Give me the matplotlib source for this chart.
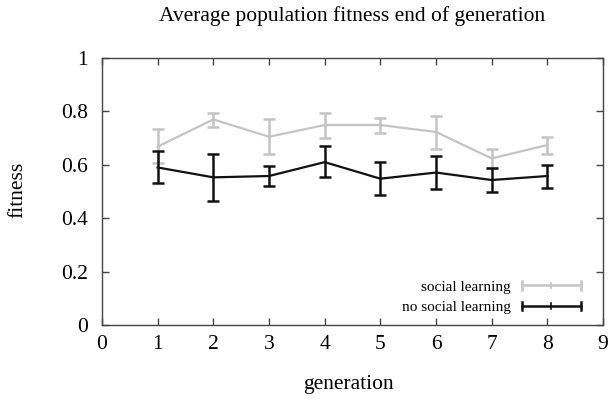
import matplotlib
matplotlib.use("Agg")
import matplotlib.pyplot as plt
from matplotlib.legend_handler import HandlerBase
from matplotlib.lines import Line2D
import numpy as np

generation = [1, 2, 3, 4, 5, 6, 7, 8]
social_mean = [0.668, 0.770, 0.705, 0.749, 0.749, 0.723, 0.624, 0.674]
social_low = [0.608, 0.740, 0.640, 0.699, 0.720, 0.660, 0.587, 0.640]
social_high = [0.734, 0.795, 0.770, 0.793, 0.777, 0.783, 0.660, 0.705]
nosocial_mean = [0.590, 0.553, 0.558, 0.610, 0.548, 0.571, 0.543, 0.558]
nosocial_low = [0.533, 0.464, 0.522, 0.554, 0.486, 0.509, 0.497, 0.514]
nosocial_high = [0.650, 0.642, 0.594, 0.669, 0.609, 0.632, 0.587, 0.598]
xticks = [0, 1, 2, 3, 4, 5, 6, 7, 8, 9]
yticks = [0, 0.2, 0.4, 0.6, 0.8, 1]
ytick_labels = ["0", "0.2", "0.4", "0.6", "0.8", "1"]

plt.rcParams['font.family'] = ['Liberation Serif', 'DejaVu Serif']

fig = plt.figure(figsize=(6.11, 4.01), dpi=100)
ax = fig.add_axes([102/611, 1-325/401, (603-102)/611, (325-58)/401])

GRAY = '#c4c4c4'
BLACK = '#111111'

def draw(mean, lo, hi, color, label):
    m = np.array(mean)
    yerr = [m - np.array(lo), np.array(hi) - m]
    ax.errorbar(generation, m, yerr=yerr, color=color, lw=1.6, elinewidth=1.8,
                capsize=4, capthick=1.8, label=label)

draw(social_mean, social_low, social_high, GRAY, 'social learning')
draw(nosocial_mean, nosocial_low, nosocial_high, BLACK, 'no social learning')

ax.set_xlim(0, 9)
ax.set_ylim(0, 1)
ax.set_xticks(xticks)
ax.set_yticks(yticks)
ax.set_yticklabels(ytick_labels)
ax.tick_params(direction='in', length=5, width=1, top=True, right=True,
               labelsize=15.5, color='#444444')
ax.tick_params(axis='x', pad=7)
ax.tick_params(axis='y', pad=10)
for s in ax.spines.values():
    s.set_color('#444444')
    s.set_linewidth(1)

fig.text(352/611, 1 - 16/401, 'Average population fitness end of generation',
         ha='center', va='center', fontsize=15.5)
fig.text(348/611, 1 - 385/401, 'generation', ha='center', va='center', fontsize=15.5)
fig.text(18/611, 1 - 190/401, 'fitness', ha='center', va='center', fontsize=15.5,
         rotation=90)


class ErrHandler(HandlerBase):
    def create_artists(self, legend, orig_handle, xdescent, ydescent, width,
                       height, fontsize, trans):
        c = orig_handle.get_color()
        y = height / 2 - ydescent
        x0, x1 = -xdescent, -xdescent + width
        h = height * 0.4
        arts = [Line2D([x0, x1], [y, y], color=c, lw=1.8),
                Line2D([x0, x0], [y - h, y + h], color=c, lw=1.8),
                Line2D([x1, x1], [y - h, y + h], color=c, lw=1.8),
                Line2D([(x0 + x1) / 2] * 2, [y - h * 0.6, y + h * 0.6], color=c, lw=1.2)]
        for a in arts:
            a.set_transform(trans)
        return arts

h1 = Line2D([], [], color=GRAY)
h2 = Line2D([], [], color=BLACK)
leg = ax.legend([h1, h2], ['social learning', 'no social learning'],
                handler_map={Line2D: ErrHandler()},
                loc='lower right', bbox_to_anchor=(0.977, 0.0),
                frameon=False, fontsize=11, markerfirst=False,
                handlelength=3.86, handletextpad=0.72, labelspacing=0.45,
                borderaxespad=0.3)

fig.savefig('out.png', dpi=100)
